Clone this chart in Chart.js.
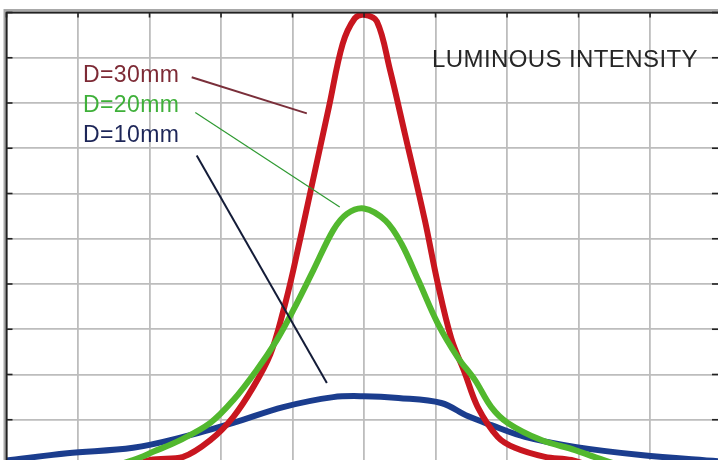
<!DOCTYPE html>
<html>
<head>
<meta charset="utf-8">
<script src="https://cdn.jsdelivr.net/npm/chart.js@4.4.1/dist/chart.umd.min.js"></script>
<style>
  html, body { margin: 0; padding: 0; background: #fff; overflow: hidden; }
  #wrap { width: 718px; height: 460px; position: relative; }
</style>
</head>
<body>
<div id="wrap"><canvas id="chart"></canvas></div>
<script>
// curve samples (x: grid columns from centre, y: grid rows)
const d30X = [-5, -3.4, -2.99, -2.53, -2.15, -1.83, -1.55, -1.31, -1.13, -0.99, -0.74, -0.49, -0.3, -0.13, 0, 0.18, 0.36, 0.57, 0.85, 1.03, 1.22, 1.41, 1.59, 1.87, 2.11, 2.53, 2.9, 3.4, 5];
const d30Y = [-0.3, -0.12, 0.11, 0.18, 0.55, 1.06, 1.72, 2.45, 3.4, 4.3, 6.11, 7.92, 9.3, 9.87, 9.95, 9.8, 8.75, 7.33, 5.41, 4.02, 2.8, 2.03, 1.28, 0.62, 0.38, 0.18, 0.11, -0.12, -0.3];

const d20X = [-5, -3.6, -3.23, -2.95, -2.57, -2.15, -1.83, -1.5, -1.22, -0.99, -0.71, -0.43, -0.24, 0, 0.3, 0.52, 0.76, 1.03, 1.31, 1.55, 1.78, 2.01, 2.48, 2.95, 3.27, 3.6, 5];
const d20Y = [-0.25, -0.05, 0.11, 0.29, 0.55, 0.93, 1.43, 2.1, 2.76, 3.42, 4.3, 5.19, 5.55, 5.67, 5.4, 4.9, 4.08, 3.13, 2.38, 1.88, 1.28, 0.93, 0.55, 0.33, 0.15, 0.0, -0.25];

const d10X = [-5, -4.15, -3.23, -2.53, -1.83, -1.13, -0.43, 0, 0.48, 1.08, 1.45, 1.78, 2.25, 2.95, 3.87, 4.95];
const d10Y = [0.1, 0.26, 0.38, 0.62, 0.93, 1.28, 1.5, 1.52, 1.48, 1.37, 1.08, 0.88, 0.62, 0.4, 0.22, 0.08];

const seriesNames = ["D=30mm", "D=20mm", "D=10mm"];
const titleText = "LUMINOUS INTENSITY";

// leader lines from each label to its curve
const lead30 = [[-2.41, 8.57], [-0.8, 7.77]];
const lead20 = [[-2.36, 7.79], [-0.34, 5.7]];
const lead10 = [[-2.34, 6.84], [-0.52, 1.81]];

const xTicks = [-5, -4, -3, -2, -1, 0, 1, 2, 3, 4];
const yTicks = [1, 2, 3, 4, 5, 6, 7, 8, 9, 10];

const pts = (xs, ys) => xs.map((x, i) => ({ x: x, y: ys[i] }));
const seg = p => p.map(q => ({ x: q[0], y: q[1] }));

const curve = (label, data, color, order) => ({
  label, data, borderColor: color, borderWidth: 6, pointRadius: 0,
  showLine: true, tension: 0.35, order,
  borderCapStyle: "round", borderJoinStyle: "round"
});
const leader = (data, color, w) => ({
  data, borderColor: color, borderWidth: w, pointRadius: 0,
  showLine: true, tension: 0, order: 0
});

// labels placed in data units
const textMarks = [
  { text: seriesNames[0], x: -3.93, y: 8.455, color: "#7d2a35" },
  { text: seriesNames[1], x: -3.93, y: 7.79, color: "#3fb03a" },
  { text: seriesNames[2], x: -3.93, y: 7.13, color: "#1d2658" },
  { text: titleText, x: 0.951, y: 8.786, color: "#262626", size: 24 }
];

const decor = {
  id: "decor",
  afterDatasetsDraw(chart) {
    const { ctx, chartArea: a, scales: { x, y } } = chart;
    ctx.save();
    // outer grey frame + dark inner frame on top and left
    ctx.strokeStyle = "#a8a8a8";
    ctx.lineWidth = 2;
    ctx.beginPath();
    ctx.moveTo(a.left - 2, a.bottom + 5); ctx.lineTo(a.left - 2, a.top - 2.5); ctx.lineTo(a.right + 5, a.top - 2.5);
    ctx.stroke();
    ctx.strokeStyle = "#222";
    ctx.lineWidth = 2;
    ctx.beginPath();
    ctx.moveTo(a.left, a.bottom + 5); ctx.lineTo(a.left, a.top); ctx.lineTo(a.right + 5, a.top);
    ctx.stroke();
    // inward tick marks
    ctx.lineWidth = 1.6;
    xTicks.forEach(v => {
      const px = x.getPixelForValue(v);
      ctx.beginPath(); ctx.moveTo(px, a.top); ctx.lineTo(px, a.top + 5); ctx.stroke();
    });
    yTicks.forEach(v => {
      const py = y.getPixelForValue(v);
      ctx.beginPath(); ctx.moveTo(a.left, py); ctx.lineTo(a.left + 6, py); ctx.stroke();
      ctx.beginPath(); ctx.moveTo(a.right - 6, py); ctx.lineTo(a.right, py); ctx.stroke();
    });
    // text
    ctx.textBaseline = "alphabetic";
    ctx.textAlign = "left";
    textMarks.forEach(t => {
      ctx.font = (t.size || 23) + 'px "Liberation Sans", Arial, sans-serif';
      ctx.letterSpacing = "0.4px";
      ctx.fillStyle = t.color;
      ctx.fillText(t.text, x.getPixelForValue(t.x), y.getPixelForValue(t.y));
    });
    ctx.restore();
  }
};

new Chart(document.getElementById("chart"), {
  type: "scatter",
  data: {
    datasets: [
      leader(seg(lead30), "#7a2f3a", 2),
      leader(seg(lead20), "#2f9a32", 1.2),
      leader(seg(lead10), "#141c38", 2),
      curve(seriesNames[1], pts(d20X, d20Y), "#52b82e", 1),
      curve(seriesNames[0], pts(d30X, d30Y), "#c8161f", 2),
      curve(seriesNames[2], pts(d10X, d10Y), "#1b3d8e", 3)
    ]
  },
  options: {
    responsive: true,
    maintainAspectRatio: false,
    animation: false,
    layout: { padding: { left: 6.5, top: 12.5, right: 0, bottom: 0 } },
    plugins: { legend: { display: false }, tooltip: { enabled: false } },
    scales: {
      x: {
        type: "linear", min: -5, max: 4.95,
        afterBuildTicks: s => { s.ticks = xTicks.map(v => ({ value: v })); },
        afterFit: s => { s.height = 0; },
        ticks: { display: false },
        grid: { color: "#bdbdbd", lineWidth: 1.8, drawTicks: false },
        border: { display: false }
      },
      y: {
        type: "linear", min: 0.11, max: 10,
        afterBuildTicks: s => { s.ticks = yTicks.map(v => ({ value: v })); },
        afterFit: s => { s.width = 0; },
        ticks: { display: false },
        grid: { color: "#bdbdbd", lineWidth: 1.8, drawTicks: false },
        border: { display: false }
      }
    }
  },
  plugins: [decor]
});
</script>
</body>
</html>
